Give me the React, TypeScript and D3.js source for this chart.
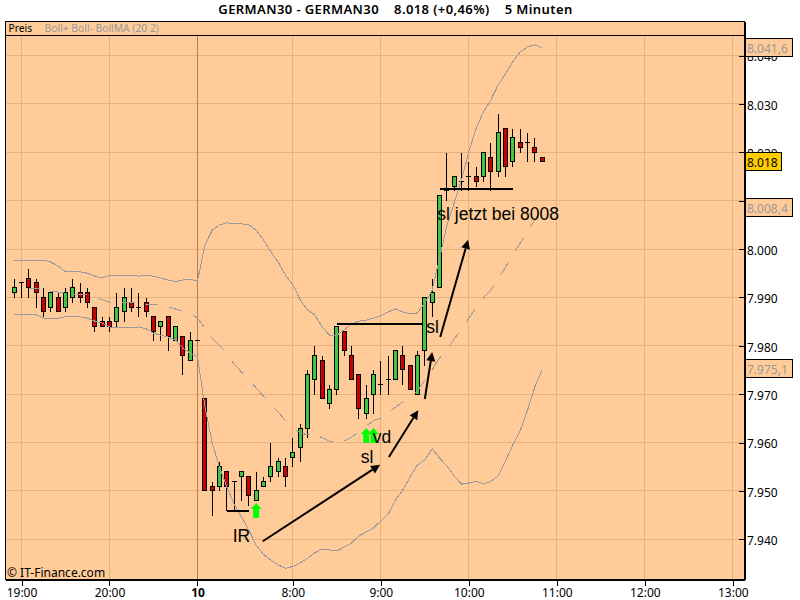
import React, { useRef, useEffect } from 'react';
import * as d3 from 'd3';

const WIDTH = 800;
const HEIGHT = 600;

// Candles, 5 minute bars. First candle sits one slot left of the 19:00 line
const FIRST_SLOT = -1;
const opens = [
  7991, 7993, 7994, 7993, 7990, 7988, 7990, 7988, 7990, 7991, 7991, 7988, 7985, 7985, 7985, 7987, 7989, 7988, 7989,
  7986, 7984, 7986, 7981, 7982, 7977, 7981, 7969, 7951, 7951, 7954, 7952, 7953, 7953, 7948, 7951, 7953, 7954, 7955,
  7957, 7959, 7963, 7973, 7977, 7968, 7971, 7983, 7978, 7974, 7966, 7970, 7972, 7973, 7973, 7978, 7976, 7970, 7979,
  7989, 7992, 8012, 8013, 8014, 8015, 8015, 8015, 8019, 8016, 8025, 8018, 8022, 8022, 8021, 8019
];
const highs = [
  7994, 7993, 7996, 7994, 7992, 7991, 7991, 7992, 7994, 7993, 7992, 7988, 7986, 7986, 7991, 7992, 7992, 7991, 7990,
  7986, 7985, 7986, 7984, 7982, 7983, 7981, 7969, 7952, 7956, 7954, 7952, 7954, 7953, 7954, 7953, 7960, 7957, 7957,
  7961, 7964, 7975, 7980, 7978, 7972, 7984, 7983, 7980, 7974, 7972, 7975, 7977, 7978, 7979, 7980, 7976, 7979, 7990,
  7994, 8011, 8020, 8015, 8020, 8018, 8017, 8020, 8022, 8028, 8025, 8025, 8025, 8024, 8023, 8019
];
const lows = [
  7990, 7990, 7990, 7988, 7986, 7987, 7987, 7987, 7989, 7989, 7988, 7983, 7984, 7983, 7984, 7985, 7987, 7986, 7986,
  7981, 7981, 7979, 7981, 7974, 7977, 7981, 7950, 7945, 7950, 7946, 7946, 7948, 7947, 7948, 7951, 7952, 7953, 7951,
  7955, 7956, 7961, 7970, 7969, 7967, 7970, 7978, 7973, 7965, 7965, 7966, 7970, 7970, 7973, 7972, 7971, 7970, 7976,
  7986, 7992, 8010, 8012, 8012, 8012, 8013, 8014, 8012, 8015, 8015, 8017, 8020, 8018, 8018, 8018
];
const closes = [
  7992, 7993, 7992, 7991, 7987, 7991, 7987, 7991, 7992, 7990, 7989, 7984, 7984, 7984, 7988, 7990, 7988, 7988, 7987,
  7983, 7985, 7982, 7984, 7978, 7981, 7981, 7950, 7950, 7955, 7951, 7952, 7954, 7949, 7950, 7952, 7955, 7956, 7953,
  7958, 7963, 7974, 7978, 7969, 7971, 7984, 7979, 7973, 7967, 7969, 7974, 7972, 7973, 7979, 7975, 7971, 7978, 7990,
  7991, 8011, 8012, 8015, 8014, 8015, 8014, 8020, 8016, 8024, 8017, 8023, 8021, 8022, 8020, 8018
];

// Bollinger (20 2)
const bollUpper = [
  7997.7, 7997.7, 7997.7, 7997.7, 7997.7, 7997.3, 7996.5, 7995.3, 7995.3, 7995.3, 7995.0, 7994.4, 7994.0, 7994.5,
  7994.6, 7994.6, 7994.6, 7994.4, 7994.5, 7994.4, 7994.0, 7993.6, 7993.3, 7993.6, 7993.7, 7993.4, 8000.8, 8003.9,
  8005.0, 8005.4, 8005.2, 8005.2, 8005.0, 8003.9, 8001.9, 7999.4, 7997.3, 7994.6, 7992.6, 7989.5, 7987.4, 7986.4,
  7983.9, 7982.2, 7982.2, 7983.3, 7984.5, 7985.1, 7985.3, 7985.7, 7986.2, 7987.0, 7987.6, 7987.0, 7986.6, 7986.8,
  7988.8, 7991.5, 7998.1, 8004.8, 8009.5, 8014.3, 8020.1, 8025.0, 8028.3, 8030.8, 8033.9, 8036.2, 8038.7, 8040.7,
  8041.8, 8042.2, 8041.6
];
const bollLower = [
  7986.4, 7986.4, 7986.4, 7986.4, 7985.7, 7985.7, 7985.7, 7986.0, 7986.0, 7986.0, 7985.7, 7985.1, 7984.7, 7983.9,
  7983.7, 7983.7, 7983.7, 7983.9, 7983.5, 7982.6, 7982.2, 7981.8, 7981.2, 7979.5, 7978.5, 7977.7, 7967.6, 7959.9,
  7954.9, 7950.8, 7947.3, 7944.6, 7941.9, 7938.8, 7936.9, 7935.7, 7934.7, 7934.0, 7934.4, 7935.1, 7936.1, 7937.2,
  7938.0, 7937.8, 7937.6, 7938.4, 7939.2, 7940.7, 7941.5, 7942.3, 7943.8, 7945.2, 7948.1, 7950.2, 7952.9, 7955.4,
  7956.4, 7958.7, 7956.8, 7955.2, 7953.1, 7951.4, 7951.6, 7952.0, 7951.4, 7952.0, 7953.1, 7956.2, 7959.5, 7962.4,
  7966.7, 7971.5, 7975.1
];
// the MA only shows from slot 1 on
const MA_FIRST_SLOT = 1;
const bollMA = [
  7991.9, 7991.9, 7991.7, 7991.3, 7991.1, 7990.9, 7990.7, 7990.7, 7990.5, 7990.1, 7989.5, 7989.0, 7989.0, 7989.0,
  7989.0, 7988.8, 7988.6, 7988.6, 7988.4, 7988.0, 7987.6, 7987.2, 7986.6, 7985.7, 7983.7, 7981.6, 7980.0, 7978.5,
  7976.2, 7974.6, 7972.9, 7971.3, 7969.6, 7967.8, 7966.3, 7964.5, 7963.0, 7962.0, 7961.6, 7961.6, 7961.0, 7960.3,
  7959.9, 7960.3, 7961.1, 7962.2, 7963.4, 7964.5, 7965.1, 7966.1, 7967.3, 7968.4, 7969.6, 7970.7, 7972.9, 7975.0,
  7977.5, 7979.1, 7981.4, 7983.5, 7985.7, 7988.0, 7989.9, 7991.5, 7993.8, 7996.3, 7998.8, 8001.2, 8003.7, 8006.0,
  8008.4
];

// Axes
const priceTicks = [7940, 7950, 7960, 7970, 7980, 7990, 8000, 8010, 8020, 8030, 8040];
const timeSlots = [0, 12, 24, 37, 49, 61, 73, 85, 97];
const timeLabels = ['19:00', '20:00', '10', '8:00', '9:00', '10:00', '11:00', '12:00', '13:00'];
const DAY_SLOT = 24;

// Price tags on the right edge
const lastPrice = 8018;
const bandTags = [8041.6, 8008.4, 7975.1];

// Hand drawn stuff, in slot / price
const trendArrows: [number, number, number, number][] = [
  [32.9, 7939.6, 48.9, 7955.4],
  [50.1, 7957, 54.1, 7966.7],
  [55, 7969, 56, 7978.7],
  [57.1, 7981.8, 60.9, 8001.9]
];
const levelLines: [number, number, number][] = [
  [43, 54.75, 7984.5],
  [57.05, 67, 8012.4],
  [28, 31, 7945.9]
];
const notes: [string, number, number][] = [
  ['IR', 28.8, 7939.4],
  ['sl', 46.25, 7955.8],
  ['vd', 47.9, 7960],
  ['sl', 55.2, 7982.6],
  ['sl jetzt bei 8008', 56.7, 8006.1]
];
const signalArrows: [number, number][] = [
  [32, 7947.5],
  [47, 7963],
  [48, 7963]
];

const BG = '#ffcc99';
const GRID = '#e5b27f';
const DAY_LINE = '#b57f4c';
const BAND = '#9a9a9e';
const UP = '#40c840';
const DOWN = '#cc0000';
const UI_FONT = '"Noto Sans", sans-serif';

// The dashes in the original are counted in pixel steps along the major axis,
// so a diagonal dash is longer than a flat one. svg dasharray can't do that.
const pixelDashes = (points: [number, number][], on: number, off: number, phase: number) => {
  const dashes: [number, number][][] = [];
  let isOn = true;
  let remaining = on - phase;
  let current: [number, number][] = [points[0]];
  for (let i = 1; i < points.length; i++) {
    const [ax, ay] = points[i - 1];
    const [bx, by] = points[i];
    const steps = Math.max(Math.abs(bx - ax), Math.abs(by - ay));
    let done = 0;
    while (steps - done > 1e-6) {
      const step = Math.min(remaining, steps - done);
      done += step;
      remaining -= step;
      const p: [number, number] = [ax + ((bx - ax) * done) / steps, ay + ((by - ay) * done) / steps];
      if (isOn) current.push(p);
      if (remaining <= 1e-6) {
        if (isOn) {
          dashes.push(current);
          current = [];
        } else {
          current = [p];
        }
        isOn = !isOn;
        remaining = isOn ? on : off;
      }
    }
  }
  if (isOn && current.length > 1) dashes.push(current);
  return dashes;
};

const App: React.FC = () => {
  const svgRef = useRef<SVGSVGElement>(null);

  useEffect(() => {
    if (!svgRef.current) return;
    const svg = d3.select(svgRef.current);
    svg.selectAll('*').remove();

    const pane = { left: 5.5, right: 744.5, top: 21.5, header: 35.5, bottom: 580 };

    const x = d3.scaleLinear().domain([0, 97]).range([21.5, 732.83]);
    const y = d3.scaleLinear().domain([7940, 8040]).range([539.3, 55.5]);
    // snap to the pixel grid so candles stay sharp
    const sx = (slot: number) => Math.floor(x(slot)) + 0.5;
    const sy = (price: number) => Math.round(y(price) - 0.5) + 0.5;

    const deFormat = d3.formatLocale({
      decimal: ',',
      thousands: '.',
      grouping: [3],
      currency: ['', '']
    });
    const fmtInt = deFormat.format(',d');
    const fmtBand = deFormat.format(',.1f');

    // Pane background
    svg.append('rect')
      .attr('x', pane.left).attr('y', pane.top)
      .attr('width', pane.right - pane.left).attr('height', pane.bottom - pane.top)
      .attr('fill', BG);

    // Grid
    const grid = svg.append('g').attr('shape-rendering', 'crispEdges');
    priceTicks.forEach(p => {
      grid.append('line')
        .attr('x1', pane.left).attr('x2', pane.right)
        .attr('y1', sy(p)).attr('y2', sy(p))
        .attr('stroke', GRID);
    });
    timeSlots.forEach(s => {
      grid.append('line')
        .attr('x1', sx(s)).attr('x2', sx(s))
        .attr('y1', pane.header).attr('y2', pane.bottom)
        .attr('stroke', s === DAY_SLOT ? DAY_LINE : GRID);
    });

    // Candles
    const candles = svg.append('g').attr('shape-rendering', 'crispEdges');
    opens.forEach((open, i) => {
      const slot = FIRST_SLOT + i;
      const close = closes[i];
      const cx = sx(slot);
      if (highs[i] !== lows[i]) {
        candles.append('line')
          .attr('x1', cx).attr('x2', cx)
          .attr('y1', sy(highs[i])).attr('y2', sy(lows[i]))
          .attr('stroke', '#000');
      }
      if (open === close) {
        candles.append('line')
          .attr('x1', cx - 2.5).attr('x2', cx + 2.5)
          .attr('y1', sy(open)).attr('y2', sy(open))
          .attr('stroke', '#000');
      } else {
        const top = sy(Math.max(open, close));
        const bottom = sy(Math.min(open, close));
        candles.append('rect')
          .attr('x', cx - 2).attr('width', 4)
          .attr('y', top).attr('height', bottom - top)
          .attr('fill', close > open ? UP : DOWN)
          .attr('stroke', '#000');
      }
    });

    // Bollinger lines go over the candles
    const bands = svg.append('g')
      .attr('fill', 'none')
      .attr('stroke', BAND)
      .attr('shape-rendering', 'crispEdges');
    const bandLine = d3.line();
    [bollUpper, bollLower].forEach(band => {
      bands.append('path')
        .attr('d', bandLine(band.map((d, i): [number, number] => [x(FIRST_SLOT + i), y(d)])));
    });
    const maPoints = bollMA.map((d, i): [number, number] => [x(MA_FIRST_SLOT + i), y(d)]);
    pixelDashes(maPoints, 13, 10.7, 2).forEach(dash => {
      bands.append('path').attr('d', bandLine(dash));
    });

    // Level lines
    levelLines.forEach(([from, to, price]) => {
      svg.append('line')
        .attr('x1', x(from)).attr('x2', x(to))
        .attr('y1', Math.round(y(price))).attr('y2', Math.round(y(price)))
        .attr('stroke', '#000')
        .attr('stroke-width', 2)
        .attr('shape-rendering', 'crispEdges');
    });

    // Trend arrows with a filled head
    trendArrows.forEach(([x0, p0, x1, p1]) => {
      const ax = x(x0), ay = y(p0), bx = x(x1), by = y(p1);
      const angle = Math.atan2(by - ay, bx - ax);
      const headLen = 9;
      const headHalf = 4.5;
      const baseX = bx - headLen * Math.cos(angle);
      const baseY = by - headLen * Math.sin(angle);
      svg.append('line')
        .attr('x1', ax).attr('y1', ay)
        .attr('x2', baseX).attr('y2', baseY)
        .attr('stroke', '#000')
        .attr('stroke-width', 2);
      svg.append('path')
        .attr('d', d3.line()([
          [bx, by],
          [baseX - headHalf * Math.sin(angle), baseY + headHalf * Math.cos(angle)],
          [baseX + headHalf * Math.sin(angle), baseY - headHalf * Math.cos(angle)]
        ]) + 'Z')
        .attr('fill', '#000');
    });

    // Green signal arrows
    signalArrows.forEach(([slot, price]) => {
      const cx = x(slot);
      const tip = y(price);
      svg.append('path')
        .attr('d', d3.line()([
          [cx, tip], [cx + 5.5, tip + 6], [cx + 3, tip + 6], [cx + 3, tip + 15],
          [cx - 3, tip + 15], [cx - 3, tip + 6], [cx - 5.5, tip + 6]
        ]) + 'Z')
        .attr('fill', '#00ff00');
    });

    // Notes
    notes.forEach(([label, slot, price]) => {
      svg.append('text')
        .attr('x', x(slot)).attr('y', y(price))
        .style('font-family', '"Liberation Sans", sans-serif')
        .style('font-size', '17.5px')
        .attr('fill', '#000')
        .text(label);
    });

    // Copyright
    svg.append('text')
      .attr('x', 7).attr('y', 577)
      .style('font-family', UI_FONT)
      .style('font-size', '12px')
      .attr('fill', '#000')
      .text('© IT-Finance.com');

    // Header strip
    svg.append('rect')
      .attr('x', pane.left).attr('y', pane.top)
      .attr('width', pane.right - pane.left).attr('height', pane.header - pane.top)
      .attr('fill', BG)
      .attr('stroke', '#000')
      .attr('shape-rendering', 'crispEdges');
    svg.append('text')
      .attr('x', 8.5).attr('y', 32)
      .style('font-family', UI_FONT)
      .style('font-size', '10.3px')
      .attr('fill', '#000')
      .text('Preis');
    svg.append('text')
      .attr('x', 44.5).attr('y', 32)
      .style('font-family', UI_FONT)
      .style('font-size', '10.3px')
      .attr('fill', '#999')
      .text('Boll+ Boll- BollMA (20 2)');

    // Pane borders
    const borders = svg.append('g').attr('shape-rendering', 'crispEdges');
    borders.append('line')
      .attr('x1', pane.left).attr('x2', pane.left)
      .attr('y1', pane.top).attr('y2', pane.bottom)
      .attr('stroke', '#000');
    borders.append('line')
      .attr('x1', pane.left).attr('x2', pane.right + 0.5)
      .attr('y1', pane.bottom).attr('y2', pane.bottom)
      .attr('stroke', '#000').attr('stroke-width', 2);
    borders.append('line')
      .attr('x1', pane.right).attr('x2', pane.right)
      .attr('y1', pane.top).attr('y2', pane.bottom)
      .attr('stroke', '#000').attr('stroke-width', 2);

    // Price axis, ticks point into the pane
    const yAxis = d3.axisRight(y)
      .tickValues(priceTicks)
      .tickFormat(d => fmtInt(d as number))
      .tickSizeInner(-6)
      .tickSizeOuter(0)
      .tickPadding(1);
    const yG = svg.append('g')
      .attr('transform', `translate(${pane.right + 0.5}, 0)`)
      .call(yAxis);
    yG.select('.domain').remove();
    yG.selectAll('.tick line').attr('stroke', '#000').attr('shape-rendering', 'crispEdges');
    yG.selectAll('text')
      .attr('x', 2)
      .attr('dy', '0.45em')
      .style('font-family', UI_FONT)
      .style('font-size', '12px')
      .attr('fill', '#000');

    // Time axis
    const xAxis = d3.axisBottom(x)
      .tickValues(timeSlots)
      .tickFormat((_, i) => timeLabels[i])
      .tickSizeInner(6)
      .tickSizeOuter(0)
      .tickPadding(2.5);
    const xG = svg.append('g')
      .attr('transform', `translate(0, ${pane.bottom})`)
      .call(xAxis);
    xG.select('.domain').remove();
    xG.selectAll('.tick line').attr('stroke', '#000').attr('shape-rendering', 'crispEdges');
    xG.selectAll<SVGTextElement, number>('text')
      .style('font-family', UI_FONT)
      .style('font-size', '12px')
      .style('font-weight', d => (d === DAY_SLOT ? 700 : 400))
      .attr('fill', '#000');

    // Tags on the price axis
    const tag = (price: number, label: string, w: number, fill: string, color: string) => {
      const cy = Math.round(y(price));
      svg.append('rect')
        .attr('x', pane.right + 0.5).attr('y', cy - 9.5)
        .attr('width', w).attr('height', 18)
        .attr('fill', fill)
        .attr('stroke', '#000')
        .attr('shape-rendering', 'crispEdges');
      svg.append('text')
        .attr('x', pane.right + 2.5).attr('y', cy + 4.5)
        .style('font-family', UI_FONT)
        .style('font-size', '12px')
        .attr('fill', color)
        .text(label);
    };
    bandTags.forEach(p => tag(p, fmtBand(p), 47, BG, '#999'));
    tag(lastPrice, fmtInt(lastPrice), 36, '#ffcc00', '#000');

    // Title
    svg.append('text')
      .attr('x', 395.5).attr('y', 14)
      .attr('text-anchor', 'middle')
      .attr('xml:space', 'preserve')
      .style('white-space', 'pre')
      .style('font-family', UI_FONT)
      .style('font-size', '13px')
      .style('font-weight', 600)
      .style('letter-spacing', '0.4px')
      .attr('fill', '#000')
      .text(`GERMAN30 - GERMAN30    ${fmtInt(lastPrice)} (+0,46%)    5 Minuten`);
  }, []);

  return (
    <svg
      ref={svgRef}
      width={WIDTH}
      height={HEIGHT}
      style={{ position: 'absolute', left: 0, top: 0, background: '#fff' }}
    />
  );
};

export default App;
